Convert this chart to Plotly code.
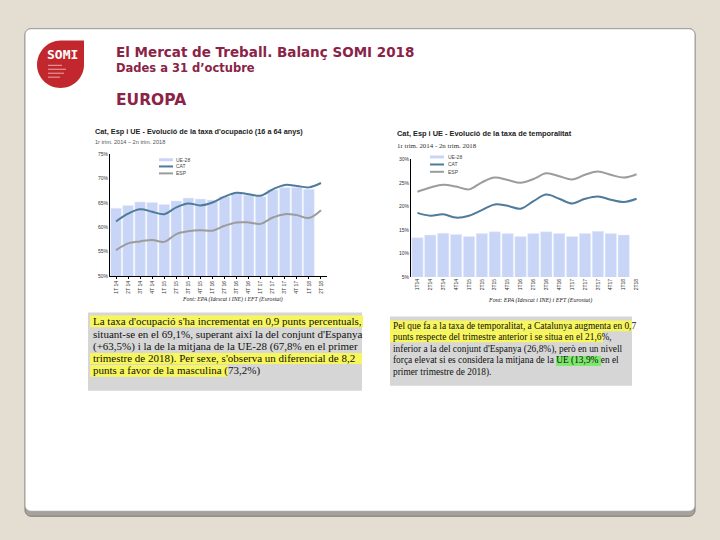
import plotly.graph_objects as go

# ---------------- data ----------------
quarters_occ = ["1T 14", "2T 14", "3T 14", "4T 14", "1T 15", "2T 15", "3T 15", "4T 15",
                "1T 16", "2T 16", "3T 16", "4T 16", "1T 17", "2T 17", "3T 17", "4T 17",
                "1T 18", "2T 18"]
ue_occ = [63.9, 64.5, 65.2, 65.1, 64.7, 65.4, 66.0, 65.8, 65.6, 66.3, 67.0, 66.6,
          66.3, 67.7, 68.2, 68.2, 67.8, None]
cat_occ = [61.2, 62.8, 63.7, 63.2, 62.7, 64.1, 64.9, 64.5, 65.1, 66.3, 67.1, 66.8,
           66.5, 67.8, 68.7, 68.5, 68.2, 69.1]
esp_occ = [55.3, 56.7, 57.1, 57.4, 57.0, 58.6, 59.2, 59.4, 59.3, 60.3, 61.0, 61.0,
           60.7, 62.0, 62.7, 62.5, 61.9, 63.5]
occ_ticks = [50, 55, 60, 65, 70, 75]

quarters_tmp = ["1T14", "2T14", "3T14", "4T14", "1T15", "2T15", "3T15", "4T15",
                "1T16", "2T16", "3T16", "4T16", "1T17", "2T17", "3T17", "4T17",
                "1T18", "2T18"]
ue_tmp = [13.3, 13.9, 14.3, 14.0, 13.6, 14.2, 14.6, 14.2, 13.6, 14.2, 14.6, 14.2,
          13.6, 14.2, 14.7, 14.2, 13.9, None]
cat_tmp = [18.6, 18.0, 18.3, 17.6, 18.0, 19.2, 20.4, 20.1, 19.5, 21.1, 22.5, 21.6,
           20.6, 21.6, 22.1, 21.4, 20.9, 21.6]
esp_tmp = [23.1, 24.0, 24.6, 24.2, 23.6, 25.1, 26.1, 25.6, 25.0, 25.8, 27.0, 26.4,
           25.7, 26.7, 27.4, 26.7, 26.1, 26.8]
tmp_ticks = [5, 10, 15, 20, 25, 30]

series_names = ["UE-28", "CAT", "ESP"]

left_text = [
    "La taxa d'ocupació s'ha incrementat en 0,9 punts percentuals,",
    "situant-se en el 69,1%, superant així la del conjunt d'Espanya",
    "(+63,5%) i la de la mitjana de la UE-28 (67,8% en el primer",
    "trimestre de 2018). Per sexe, s'observa un diferencial de 8,2",
    "punts a favor de la masculina (73,2%)",
]
right_text = [
    "Pel que fa a la taxa de temporalitat, a Catalunya augmenta en 0,7",
    "punts respecte del trimestre anterior i se situa en el 21,6%,",
    "inferior a la del conjunt d'Espanya (26,8%), però en un nivell",
    "força elevat si es considera la mitjana de la UE (13,9% en el",
    "primer trimestre de 2018).",
]

# ---------------- helpers ----------------
W, H = 720, 540
def px(x): return x / W
def py(y): return 1 - y / H

BAR = "#C9D5F6"
CATC = "#4E7A9B"
ESPC = "#9C9C9C"
MAROON = "#8A2346"

fig = go.Figure()

# left chart
fig.add_trace(go.Bar(x=quarters_occ, y=ue_occ, marker_color=BAR, name=series_names[0],
                     xaxis="x", yaxis="y", showlegend=False))
fig.add_trace(go.Scatter(x=quarters_occ, y=cat_occ, mode="lines", name=series_names[1],
                         line=dict(color=CATC, width=2, shape="spline"),
                         xaxis="x", yaxis="y", showlegend=False))
fig.add_trace(go.Scatter(x=quarters_occ, y=esp_occ, mode="lines", name=series_names[2],
                         line=dict(color=ESPC, width=2, shape="spline"),
                         xaxis="x", yaxis="y", showlegend=False))
# right chart
fig.add_trace(go.Bar(x=quarters_tmp, y=ue_tmp, marker_color=BAR, name=series_names[0],
                     xaxis="x2", yaxis="y2", showlegend=False))
fig.add_trace(go.Scatter(x=quarters_tmp, y=cat_tmp, mode="lines", name=series_names[1],
                         line=dict(color=CATC, width=2, shape="spline"),
                         xaxis="x2", yaxis="y2", showlegend=False))
fig.add_trace(go.Scatter(x=quarters_tmp, y=esp_tmp, mode="lines", name=series_names[2],
                         line=dict(color=ESPC, width=2, shape="spline"),
                         xaxis="x2", yaxis="y2", showlegend=False))

tickfont = dict(family="Liberation Sans, Arial", size=5, color="#333333")

shapes = []
annotations = []

# page panel
def rrect(x0, y0, x1, y1, r):
    k = 0.5523 * r
    pts = [
        f"M{px(x0 + r)},{py(y0)}",
        f"L{px(x1 - r)},{py(y0)}",
        f"C{px(x1 - r + k)},{py(y0)} {px(x1)},{py(y0 + r - k)} {px(x1)},{py(y0 + r)}",
        f"L{px(x1)},{py(y1 - r)}",
        f"C{px(x1)},{py(y1 - r + k)} {px(x1 - r + k)},{py(y1)} {px(x1 - r)},{py(y1)}",
        f"L{px(x0 + r)},{py(y1)}",
        f"C{px(x0 + r - k)},{py(y1)} {px(x0)},{py(y1 - r + k)} {px(x0)},{py(y1 - r)}",
        f"L{px(x0)},{py(y0 + r)}",
        f"C{px(x0)},{py(y0 + r - k)} {px(x0 + r - k)},{py(y0)} {px(x0 + r)},{py(y0)} Z",
    ]
    return " ".join(pts)

shapes.append(dict(type="path", xref="paper", yref="paper", path=rrect(25, 26, 695, 519, 6),
                   fillcolor="#A6A29B", line=dict(color="#7D7A75", width=1), layer="below"))
shapes.append(dict(type="path", xref="paper", yref="paper", path=rrect(25, 26, 695, 514, 6),
                   fillcolor="white", line=dict(color="#A4A29C", width=1), layer="below"))

# logo
L, R, T, B = 37, 84, 38, 86
r = (R - L) / 2
k = 0.5523 * r
logo = " ".join([
    f"M{px(L + r)},{py(T)}",
    f"L{px(R)},{py(T)}",
    f"L{px(R)},{py(B - r)}",
    f"C{px(R)},{py(B - r + k)} {px(R - r + k)},{py(B)} {px(R - r)},{py(B)}",
    f"C{px(R - r - k)},{py(B)} {px(L)},{py(B - r + k)} {px(L)},{py(B - r)}",
    f"C{px(L)},{py(B - r - k)} {px(L + r - k)},{py(T)} {px(L + r)},{py(T)} Z",
])
shapes.append(dict(type="path", xref="paper", yref="paper", path=logo,
                   fillcolor="#C1272D", line=dict(width=0), layer="below"))
for i, (ly, lw) in enumerate([(63, 14), (67, 18), (71, 16), (75, 12)]):
    shapes.append(dict(type="line", xref="paper", yref="paper", x0=px(48), x1=px(48 + lw),
                       y0=py(ly), y1=py(ly), line=dict(color="#EBA9AC", width=1)))
annotations.append(dict(text="<b>SOMI</b>", x=px(62), y=py(52), xref="paper", yref="paper",
                        showarrow=False, xanchor="center", yanchor="middle",
                        font=dict(family="DejaVu Sans Mono", size=13, color="white")))

# headings
annotations += [
    dict(text="<b>El Mercat de Treball. Balanç SOMI 2018</b>", x=px(114), y=py(50),
         font=dict(family="DejaVu Sans", size=13.5, color=MAROON)),
    dict(text="<b>Dades a 31 d’octubre</b>", x=px(114), y=py(66),
         font=dict(family="DejaVu Sans", size=11.5, color=MAROON)),
    dict(text="<b>EUROPA</b>", x=px(114), y=py(98),
         font=dict(family="DejaVu Sans", size=15.5, color=MAROON)),
]
for a in annotations[-3:]:
    a.update(xref="paper", yref="paper", showarrow=False, xanchor="left", yanchor="middle")

def txt(s, x, y, size, anchor="left", color="#222222", family="Liberation Sans, Arial"):
    annotations.append(dict(text=s, x=px(x), y=py(y), xref="paper", yref="paper",
                            showarrow=False, xanchor=anchor, yanchor="middle",
                            font=dict(family=family, size=size, color=color)))

# chart titles and sources
txt("<b>Cat, Esp i UE - Evolució de la taxa d'ocupació (16 a 64 anys)</b>", 93, 130, 7.3)
txt("1r trim. 2014 – 2n trim. 2018", 93, 141, 5.6, color="#555555")
txt("<i>Font: EPA (Idescat i INE) i EFT (Eurostat)</i>", 232, 300, 5.8, anchor="center",
    family="Liberation Serif, Times New Roman")
txt("<b>Cat, Esp i UE - Evolució de la taxa de temporalitat</b>", 395, 132, 7.4)
txt("1r trim. 2014 - 2n trim. 2018", 395, 144, 6.9, color="#333333",
    family="Liberation Serif, Times New Roman")
txt("<i>Font: EPA (Idescat i INE) i EFT (Eurostat)</i>", 540, 301, 6.0, anchor="center",
    family="Liberation Serif, Times New Roman")

# manual legends
def legend(x0, ys, xs_text):
    shapes.append(dict(type="rect", xref="paper", yref="paper", x0=px(x0), x1=px(x0 + 14),
                       y0=py(ys[0] + 1.5), y1=py(ys[0] - 1.5), fillcolor=BAR, line=dict(width=0)))
    shapes.append(dict(type="line", xref="paper", yref="paper", x0=px(x0), x1=px(x0 + 14),
                       y0=py(ys[1]), y1=py(ys[1]), line=dict(color=CATC, width=2)))
    shapes.append(dict(type="line", xref="paper", yref="paper", x0=px(x0), x1=px(x0 + 14),
                       y0=py(ys[2]), y1=py(ys[2]), line=dict(color=ESPC, width=2)))
    for n, yy in zip(series_names, ys):
        txt(n, xs_text, yy, 5, color="#444444")

legend(159, [158.5, 165.3, 172.3], 174)
legend(430, [155.7, 163.3, 170.7], 446)

# text boxes
shapes.append(dict(type="rect", xref="paper", yref="paper", x0=px(88), x1=px(362),
                   y0=py(313), y1=py(392), fillcolor="#D6D6D6", line=dict(width=0)))
for (x0, x1, y0, y1) in [(90, 363, 316, 328), (90, 362, 354, 365), (90, 228, 366, 378)]:
    shapes.append(dict(type="rect", xref="paper", yref="paper", x0=px(x0), x1=px(x1),
                       y0=py(y0), y1=py(y1), fillcolor="#F7F65C", line=dict(width=0)))
shapes.append(dict(type="rect", xref="paper", yref="paper", x0=px(390), x1=px(632),
                   y0=py(317), y1=py(387), fillcolor="#D6D6D6", line=dict(width=0)))
for (x0, x1, y0, y1, c) in [(390, 632, 321, 332, "#F7F65C"), (390, 603, 332, 343, "#F7F65C"),
                            (556, 601, 357, 367, "#7CE86C")]:
    shapes.append(dict(type="rect", xref="paper", yref="paper", x0=px(x0), x1=px(x1),
                       y0=py(y0), y1=py(y1), fillcolor=c, line=dict(width=0)))

for s, yy in zip(left_text, [322, 334.5, 347, 359.5, 372]):
    txt(s, 91, yy, 11, color="#111111", family="Liberation Serif, Times New Roman")
for s, yy in zip(right_text, [326.5, 338, 350, 362, 373.5]):
    txt(s, 391, yy, 9.4, color="#111111", family="Liberation Serif, Times New Roman")

axis_common = dict(showgrid=False, zeroline=False, fixedrange=True)

fig.update_layout(
    width=W, height=H, margin=dict(l=0, r=0, t=0, b=0),
    paper_bgcolor="#E3DDD2", plot_bgcolor="rgba(0,0,0,0)",
    bargap=0.12, showlegend=False,
    xaxis=dict(domain=[px(110), px(327)], anchor="y", type="category",
               showline=True, linecolor="black", linewidth=1, ticks="outside", ticklen=2,
               tickcolor="black", tickangle=-90, tickfont=tickfont, **axis_common),
    yaxis=dict(domain=[py(276), py(153)], anchor="x", range=[50, 75],
               tickvals=occ_ticks, ticktext=[f"{v}%" for v in occ_ticks],
               showline=True, linecolor="black", linewidth=1, ticks="",
               tickfont=tickfont, **axis_common),
    xaxis2=dict(domain=[px(411), px(643)], anchor="y2", type="category",
                showline=False, ticks="", tickangle=-90, tickfont=tickfont, **axis_common),
    yaxis2=dict(domain=[py(277), py(158)], anchor="x2", range=[5, 30],
                tickvals=tmp_ticks, ticktext=[f"{v}%" for v in tmp_ticks],
                showline=True, linecolor="black", linewidth=1, ticks="",
                tickfont=tickfont, **axis_common),
    shapes=shapes, annotations=annotations,
)

fig.write_html("out.html", config={"displayModeBar": False},
               post_script="document.body.style.margin='0';document.body.style.overflow='hidden';")
